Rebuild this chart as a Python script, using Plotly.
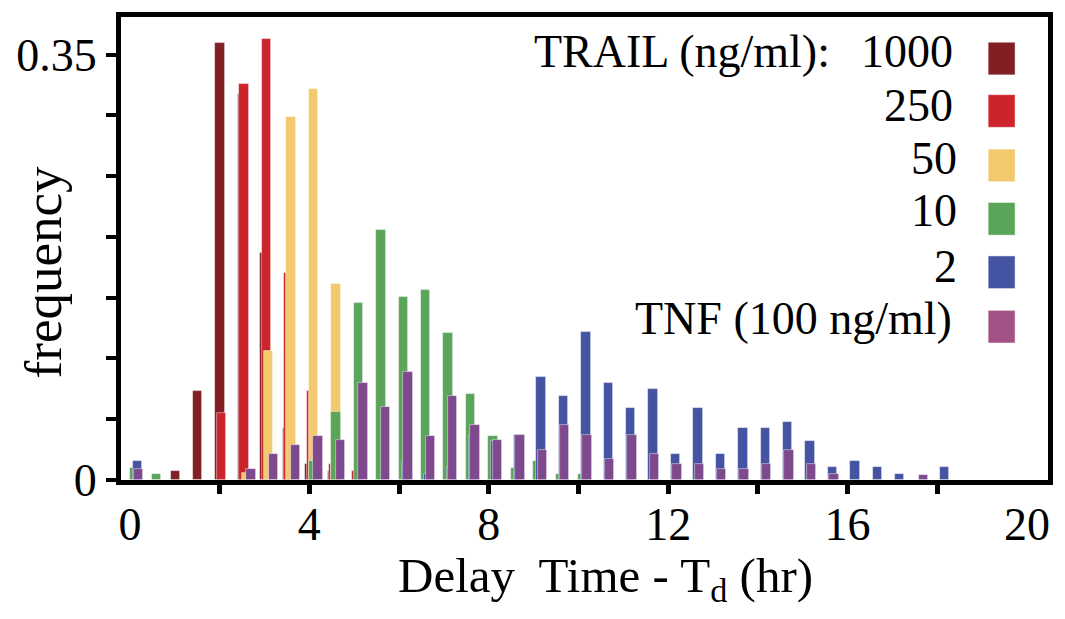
import plotly.graph_objects as go

# Histogram bin starts (hours)
BIN_HR = [0.0, 0.5, 1.0, 1.5, 2.0, 2.5, 3.0, 3.5, 4.0, 4.5,
          5.0, 5.5, 6.0, 6.5, 7.0, 7.5, 8.0, 8.5, 9.0, 9.5,
          10.0, 10.5, 11.0, 11.5, 12.0, 12.5, 13.0, 13.5, 14.0, 14.5,
          15.0, 15.5, 16.0, 16.5, 17.0, 17.5, 18.0]

# Frequencies per bin for each treatment
TRAIL_1000 = [0, 0, 0.007, 0.073, 0.360, 0.318, 0.187, 0.043, 0.013, 0.007,
              0, 0, 0, 0, 0, 0, 0, 0, 0, 0,
              0, 0, 0, 0, 0, 0, 0, 0, 0, 0,
              0, 0, 0, 0, 0, 0, 0]
TRAIL_250 = [0, 0, 0, 0, 0.055, 0.326, 0.363, 0.170, 0.073, 0.013,
             0.007, 0, 0, 0, 0, 0, 0, 0, 0, 0,
             0, 0, 0, 0, 0, 0, 0, 0, 0, 0,
             0, 0, 0, 0, 0, 0, 0]
TRAIL_50 = [0, 0, 0, 0, 0, 0.006, 0.106, 0.299, 0.322, 0.161,
            0, 0, 0, 0, 0, 0, 0, 0, 0, 0,
            0, 0, 0, 0, 0, 0, 0, 0, 0, 0,
            0, 0, 0, 0, 0, 0, 0]
TRAIL_10 = [0.010, 0.005, 0, 0, 0, 0, 0, 0, 0.016, 0.056,
            0.146, 0.206, 0.151, 0.156, 0.121, 0.071, 0.036, 0.010, 0.016, 0.005,
            0.005, 0, 0, 0, 0, 0, 0, 0, 0, 0,
            0, 0, 0, 0, 0, 0, 0]
TRAIL_2 = [0.016, 0, 0, 0, 0, 0, 0, 0, 0, 0,
           0, 0, 0.016, 0.005, 0.011, 0.037, 0.032, 0.037, 0.085, 0.069,
           0.122, 0.080, 0.059, 0.075, 0.021, 0.059, 0.021, 0.043, 0.043, 0.048,
           0.032, 0.011, 0.016, 0.011, 0.005, 0, 0.011]
TNF_100 = [0.009, 0, 0, 0, 0, 0.009, 0.021, 0.029, 0.036, 0.033,
           0.080, 0.060, 0.089, 0.036, 0.069, 0.045, 0.033, 0.037, 0.025, 0.045,
           0.037, 0.017, 0.037, 0.021, 0.013, 0.013, 0.009, 0.009, 0.013, 0.025,
           0.013, 0.005, 0, 0, 0, 0.004, 0]

LABELS = ["1000", "250", "50", "10", "2", "TNF (100 ng/ml)"]
X_TICKS = [0, 4, 8, 12, 16, 20]
X_MINOR = [2, 4, 6, 8, 10, 12, 14, 16, 18]
Y_TICKS = [0, 0.35]
Y_TICKTEXT = ["0", "0.35"]
Y_MINOR = [0.05, 0.10, 0.15, 0.20, 0.25, 0.30]

SERIES = [TRAIL_1000, TRAIL_250, TRAIL_50, TRAIL_10, TRAIL_2, TNF_100]
BAR_COLORS = ["#802024", "#cc242b", "#f2c96d", "#5ba55b", "#4554a2", "#7f4a8d"]
SWATCH_COLORS = ["#802024", "#cc242b", "#f2c96d", "#5ba55b", "#4554a2", "#a45286"]
BAR_SHIFT = [-0.095, -0.06, -0.01, -0.01, 0.06, 0.09]
BAR_WIDTH = 0.21

FONT = "Liberation Serif, Times New Roman, serif"
W, H = 1065, 619
ML, MR, MT, MB = 121, 15, 12, 139
PW, PH = W - ML - MR, H - MT - MB


def px_x(px):
    return (px - ML) / PW


def px_y(py):
    return (H - MB - py) / PH


fig = go.Figure()
for vals, color, shift, name in zip(SERIES, BAR_COLORS, BAR_SHIFT, LABELS):
    xs = [b for b, v in zip(BIN_HR, vals) if v > 0]
    ys = [v for v in vals if v > 0]
    fig.add_trace(go.Bar(
        x=xs, y=ys, name=name,
        width=BAR_WIDTH, offset=shift,
        marker=dict(color=color, line=dict(width=0.8, color="rgba(255,255,255,0.55)")),
        showlegend=False,
    ))

# Legend: right-aligned labels with colour squares to their right
swatch_y = [54, 107, 162, 216, 270, 325]
text_y = [47, 101, 155, 208, 264, 317]
label_right = [957, 957, 961, 961, 961, 956]
annotations = []
shapes = []
for lab, col, sy, ty, xr in zip(LABELS, SWATCH_COLORS, swatch_y, text_y, label_right):
    annotations.append(dict(
        x=px_x(xr), y=px_y(ty), xref="paper", yref="paper",
        text=lab, showarrow=False, xanchor="right", yanchor="middle",
        font=dict(family=FONT, size=46, color="black"),
    ))
    shapes.append(dict(
        type="rect", xref="paper", yref="paper",
        x0=px_x(990), x1=px_x(1017), y0=px_y(sy - 16.5), y1=px_y(sy + 16.5),
        fillcolor=col, line=dict(width=0.8, color="rgba(255,255,255,0.6)"),
    ))
annotations.append(dict(
    x=px_x(834), y=px_y(text_y[0]), xref="paper", yref="paper",
    text="TRAIL (ng/ml):", showarrow=False, xanchor="right", yanchor="middle",
    font=dict(family=FONT, size=46, color="black"),
))
# Axis titles
annotations.append(dict(
    x=px_x(607), y=px_y(580), xref="paper", yref="paper",
    text="Delay\u00a0 Time - T<sub>d</sub> (hr)", showarrow=False,
    xanchor="center", yanchor="middle",
    font=dict(family=FONT, size=49, color="black"),
))
annotations.append(dict(
    x=px_x(43), y=px_y(270), xref="paper", yref="paper",
    text="frequency", showarrow=False, textangle=-90,
    xanchor="center", yanchor="middle",
    font=dict(family=FONT, size=53, color="black"),
))

fig.update_layout(
    width=W, height=H,
    margin=dict(l=ML, r=MR, t=MT, b=MB),
    paper_bgcolor="white", plot_bgcolor="white",
    barmode="overlay", bargap=0,
    annotations=annotations, shapes=shapes,
    font=dict(family=FONT, size=46, color="black"),
    xaxis=dict(
        range=[-0.2, 20.47], tickvals=X_TICKS, ticks="",
        minor=dict(tickvals=X_MINOR, ticks="outside", ticklen=9,
                   tickwidth=5, tickcolor="black"),
        showline=True, linewidth=5, linecolor="black", mirror=True,
        showgrid=False, zeroline=False,
        tickfont=dict(family=FONT, size=46, color="black"),
    ),
    yaxis=dict(
        range=[0, 0.381], tickvals=Y_TICKS, ticktext=Y_TICKTEXT,
        ticks="outside", ticklen=10, tickwidth=4, tickcolor="black",
        minor=dict(tickvals=Y_MINOR, ticks="outside", ticklen=10,
                   tickwidth=4, tickcolor="black"),
        showline=True, linewidth=5, linecolor="black", mirror=True,
        showgrid=False, zeroline=False,
        tickfont=dict(family=FONT, size=46, color="black"),
    ),
)

fig.write_html("out.html")
